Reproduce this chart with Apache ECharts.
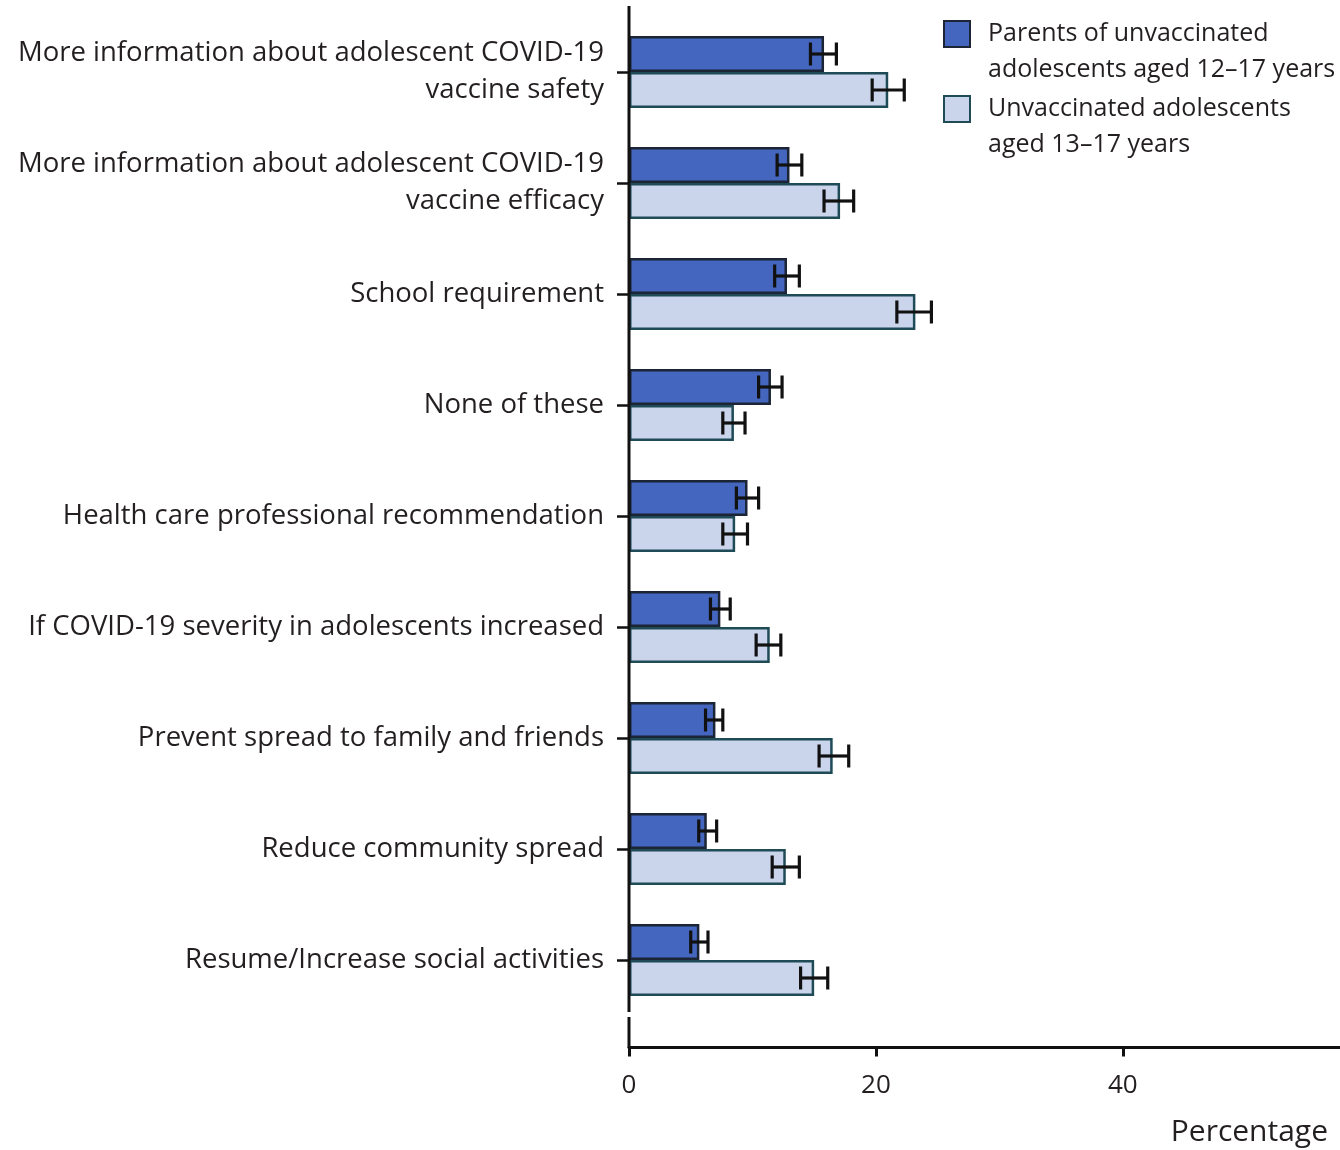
<!DOCTYPE html>
<html>
<head>
<meta charset="utf-8">
<script src="https://cdn.jsdelivr.net/npm/echarts@6/dist/echarts.min.js"></script>
<style>
html,body{margin:0;padding:0;background:#fff;}
#chart{width:1340px;height:1150px;}
</style>
</head>
<body>
<div id="chart"></div>
<script>
const categories = [
  "More information about adolescent COVID-19\nvaccine safety",
  "More information about adolescent COVID-19\nvaccine efficacy",
  "School requirement",
  "None of these",
  "Health care professional recommendation",
  "If COVID-19 severity in adolescents increased",
  "Prevent spread to family and friends",
  "Reduce community spread",
  "Resume/Increase social activities"
];
const seriesNames = [
  "Parents of unvaccinated\nadolescents aged 12–17 years",
  "Unvaccinated adolescents\naged 13–17 years"
];
const parents     = [15.8, 13.0, 12.8, 11.5, 9.6, 7.4, 7.0, 6.3, 5.7];
const parentsLow  = [14.7, 12.0, 11.8, 10.5, 8.7, 6.6, 6.2, 5.65, 5.0];
const parentsHigh = [16.8, 14.0, 13.8, 12.4, 10.5, 8.2, 7.6, 7.1, 6.4];
const teens       = [21.0, 17.1, 23.2, 8.5, 8.6, 11.4, 16.5, 12.7, 15.0];
const teensLow    = [19.7, 15.8, 21.7, 7.6, 7.6, 10.3, 15.4, 11.6, 13.9];
const teensHigh   = [22.3, 18.2, 24.5, 9.4, 9.6, 12.3, 17.8, 13.8, 16.1];
const xTicks = [0, 20, 40];

const FONT = '"Open Sans"';
const TXT = '#231f20';
const BAR_W = 36;

function errData(lo, hi) { return lo.map((v, i) => [i, v, hi[i]]); }
function errSeries(lo, hi, offset) {
  return {
    type: 'custom',
    silent: true,
    z: 5,
    data: errData(lo, hi),
    encode: { x: [1, 2], y: 0 },
    renderItem: function (params, api) {
      const c = api.value(0);
      const p1 = api.coord([api.value(1), c]);
      const p2 = api.coord([api.value(2), c]);
      const y = p1[1] + offset;
      const h = 11.5;
      const st = { stroke: '#111', lineWidth: 3.2 };
      return {
        type: 'group',
        children: [
          { type: 'line', shape: { x1: p1[0], y1: y, x2: p2[0], y2: y }, style: st },
          { type: 'line', shape: { x1: p1[0], y1: y - h, x2: p1[0], y2: y + h }, style: st },
          { type: 'line', shape: { x1: p2[0], y1: y - h, x2: p2[0], y2: y + h }, style: st }
        ]
      };
    }
  };
}

const chart = echarts.init(document.getElementById('chart'), null, { renderer: 'canvas' });
const legendText = { fontFamily: FONT, fontSize: 25, color: TXT, lineHeight: 36, padding: [0, 0, 0, 13] };
const legendCommon = {
  left: 943, padding: 0, itemWidth: 26, itemHeight: 26, icon: 'rect',
  textStyle: legendText, selectedMode: false,
  formatter: name => '\u00a0\n' + name
};
chart.setOption({
  animation: false,
  backgroundColor: '#fff',
  textStyle: { fontFamily: FONT },
  grid: { left: 629, right: 0, top: 16.5, bottom: 134.5, containLabel: false },
  legend: [
    Object.assign({ data: [seriesNames[0]], top: -20 }, legendCommon),
    Object.assign({ data: [seriesNames[1]], top: 55 }, legendCommon)
  ],
  xAxis: {
    type: 'value', min: 0, max: 57.6, interval: 20, offset: 32,
    axisLine: { show: true, lineStyle: { color: '#111', width: 3 } },
    axisTick: { show: true, length: 9, lineStyle: { color: '#111', width: 3 } },
    axisLabel: { fontFamily: FONT, fontSize: 26, color: TXT, margin: 25, showMaxLabel: false,
      formatter: v => xTicks.indexOf(v) >= 0 ? String(v) : '' },
    splitLine: { show: false },
    name: 'Percentage', nameLocation: 'end', nameGap: -12,
    nameTextStyle: { fontFamily: FONT, fontSize: 30, color: TXT, align: 'right', verticalAlign: 'top', padding: [70, 0, 0, 0] }
  },
  yAxis: {
    type: 'category', data: categories, inverse: true,
    axisLine: { show: false },
    axisTick: { show: true, alignWithLabel: true, length: 12, lineStyle: { color: '#111', width: 2.5 } },
    axisLabel: { fontFamily: FONT, fontSize: 27.5, color: TXT, margin: 25, lineHeight: 37, align: 'right' }
  },
  graphic: [
    { type: 'line', shape: { x1: 629, y1: 6, x2: 629, y2: 1012 }, style: { stroke: '#111', lineWidth: 3 }, z: 10 },
    { type: 'line', shape: { x1: 629, y1: 1017, x2: 629, y2: 1048 }, style: { stroke: '#111', lineWidth: 3 }, z: 10 }
  ],
  series: [
    { name: seriesNames[0], type: 'bar', data: parents, barWidth: BAR_W, barGap: '0%',
      itemStyle: { color: '#4466bf', borderColor: '#1b2535', borderWidth: 2.5 } },
    { name: seriesNames[1], type: 'bar', data: teens, barWidth: BAR_W, barGap: '0%',
      itemStyle: { color: '#cad5ec', borderColor: '#1f4b57', borderWidth: 2.5 } },
    errSeries(parentsLow, parentsHigh, -BAR_W / 2),
    errSeries(teensLow, teensHigh, BAR_W / 2)
  ]
});
</script>
</body>
</html>
